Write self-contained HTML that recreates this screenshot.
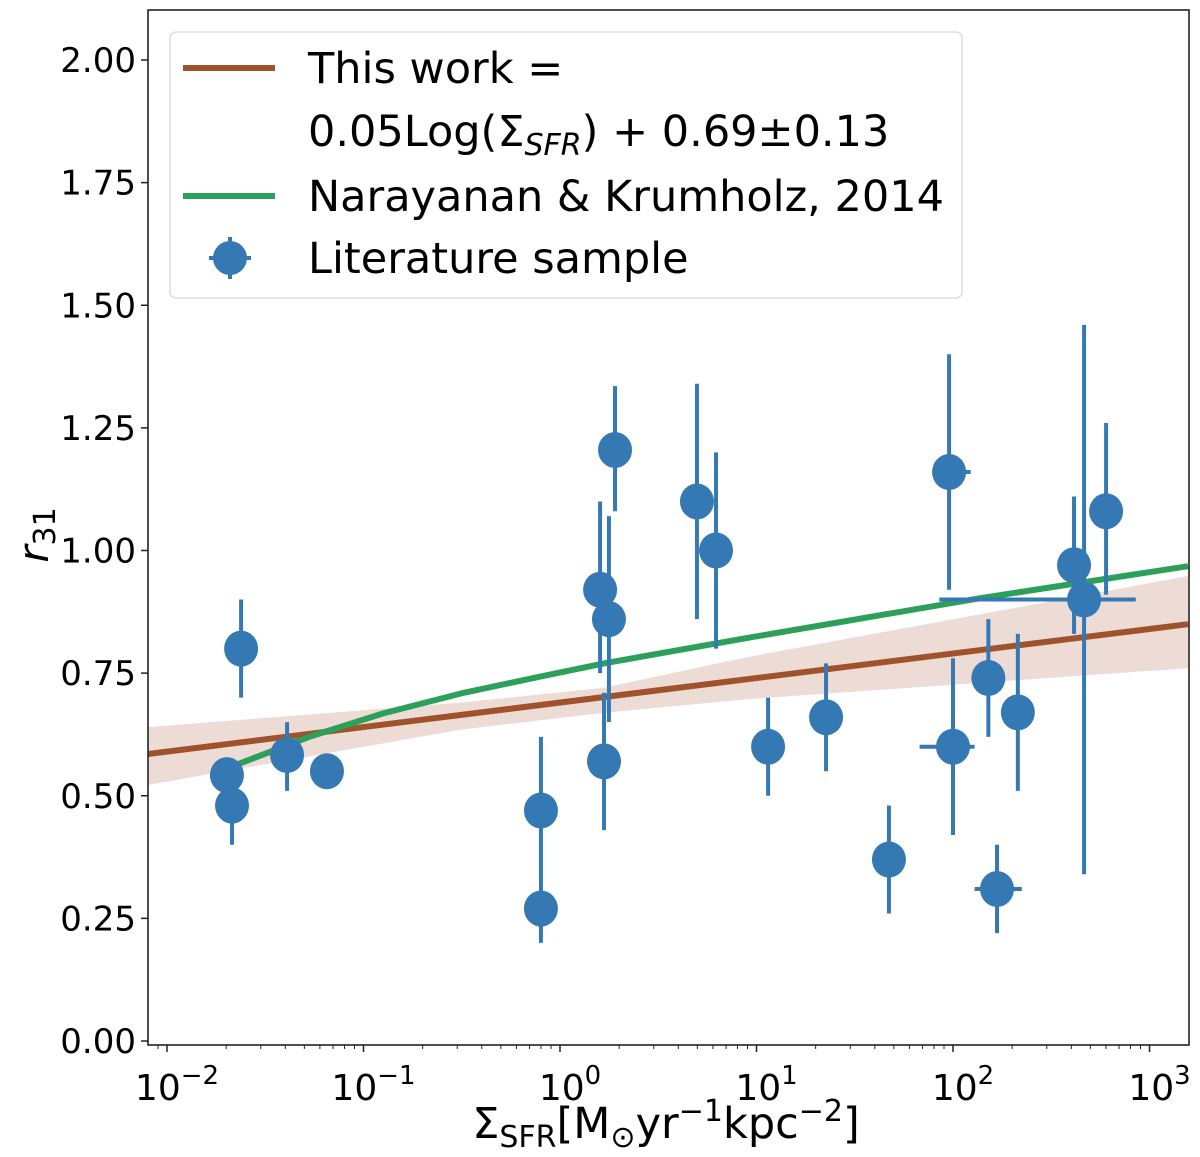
<!DOCTYPE html>
<html><head><meta charset="utf-8"><style>
html,body{margin:0;padding:0;background:#fff;}
svg{display:block;font-family:"DejaVu Sans","Liberation Sans",sans-serif;}
</style></head><body>
<svg id="chart" width="1200" height="1157" viewBox="0 0 1200 1157">
<g id="band"></g>
<g id="lines"></g>
<g id="points"></g>
<rect x="148" y="10" width="1041" height="1035" fill="none" stroke="#222" stroke-width="1.6"/>
<g id="axes"></g>
<text x="666" y="1138" font-size="43" text-anchor="middle" fill="#000">Σ<tspan font-size="30" dy="9">SFR</tspan><tspan dy="-9">[M</tspan><tspan font-size="30" dy="9">⊙</tspan><tspan dy="-9">yr</tspan><tspan font-size="30" dy="-17">−1</tspan><tspan dy="17">kpc</tspan><tspan font-size="30" dy="-17">−2</tspan><tspan dy="17">]</tspan></text>
<text transform="translate(48,535) rotate(-90)" font-size="42" text-anchor="middle" font-style="italic">r<tspan font-size="30" dy="7" font-style="normal">31</tspan></text>
<g>
<rect x="170" y="32" width="792" height="266" rx="6" fill="#fff" fill-opacity="0.85" stroke="#ddd" stroke-width="1.5"/>
<line x1="183" y1="68" x2="275" y2="68" stroke="#a0522d" stroke-width="6"/>
<text x="308" y="83" font-size="43">This work =</text>
<text x="308" y="146" font-size="43">0.05Log(Σ<tspan font-size="30" dy="9" font-style="italic">SFR</tspan><tspan dy="-9">) + 0.69±0.13</tspan></text>
<line x1="183" y1="196" x2="275" y2="196" stroke="#2ca05a" stroke-width="6"/>
<text x="308" y="211" font-size="43">Narayanan &amp; Krumholz, 2014</text>
<line x1="209" y1="258" x2="251" y2="258" stroke="#3579b4" stroke-width="4"/>
<line x1="230" y1="237" x2="230" y2="279" stroke="#3579b4" stroke-width="4"/>
<circle cx="230" cy="258" r="17" fill="#3579b4"/>
<text x="308" y="273" font-size="43">Literature sample</text>
</g>
</svg>
<script>
// data
const ptLogX = [-1.695,-1.669,-1.623,-1.389,-1.186,-0.097,-0.097,0.204,0.249,0.224,0.28,0.697,0.794,1.059,1.354,1.674,1.98,2.0,2.18,2.224,2.33,2.616,2.667,2.779];
const ptY    = [0.542,0.48,0.80,0.583,0.55,0.47,0.27,0.92,0.86,0.57,1.205,1.10,1.00,0.60,0.66,0.37,1.16,0.60,0.74,0.31,0.67,0.97,0.90,1.08];
const ptYLo  = [0.542,0.40,0.70,0.51,0.55,0.33,0.20,0.75,0.65,0.43,1.08,0.86,0.80,0.50,0.55,0.26,0.92,0.42,0.62,0.22,0.51,0.83,0.34,0.91];
const ptYHi  = [0.542,0.52,0.90,0.65,0.55,0.62,0.34,1.10,1.07,0.71,1.335,1.34,1.20,0.70,0.77,0.48,1.40,0.78,0.86,0.40,0.83,1.11,1.46,1.26];
const ptXLo  = [null,null,null,null,null,null,null,null,null,null,null,null,null,null,null,null,1.90,1.83,null,2.11,null,null,1.93,null];
const ptXHi  = [null,null,null,null,null,null,null,null,null,null,null,null,null,null,null,null,2.09,2.11,null,2.35,null,null,2.93,null];
const fitSlope = 0.05, fitIntercept = 0.69;
const fitRange = [-2.097, 3.196];
const bandLogX = [-2.097,-0.5,0.22,0.957,3.196];
const bandUpper = [0.64,0.69,0.72,0.783,0.948];
const bandLower = [0.522,0.635,0.669,0.697,0.760];
const nkLogX = [-1.674,-1.277,-0.9,-0.499,-0.1,0.239,0.957,2.142,3.196];
const nkY    = [0.559,0.620,0.668,0.709,0.743,0.771,0.822,0.903,0.968];
const yTicks = [0,0.25,0.5,0.75,1.0,1.25,1.5,1.75,2.0];
const yTickLabels = ["0.00","0.25","0.50","0.75","1.00","1.25","1.50","1.75","2.00"];
const xDecades = [-2,-1,0,1,2,3];
const xDecadeLabels = ["−2","−1","0","1","2","3"];

const NS="http://www.w3.org/2000/svg";
const X = l => 560 + 196.5*l;
const Y = v => 1041 - 490.5*v;
function mk(tag, attrs, parent){const e=document.createElementNS(NS,tag);for(const k in attrs)e.setAttribute(k,attrs[k]);parent.appendChild(e);return e;}
const gBand=document.getElementById('band'), gLines=document.getElementById('lines'), gPts=document.getElementById('points'), gAx=document.getElementById('axes');

let d='M'+bandLogX.map((l,i)=>X(l)+','+Y(bandUpper[i])).join('L');
for(let i=bandLogX.length-1;i>=0;i--) d+='L'+X(bandLogX[i])+','+Y(bandLower[i]);
const band=mk('path',{d:d+'Z',fill:'#a0522d','fill-opacity':0.2},gBand);



const fl=mk('line',{x1:X(fitRange[0]),y1:Y(fitSlope*fitRange[0]+fitIntercept),x2:X(fitRange[1]),y2:Y(fitSlope*fitRange[1]+fitIntercept),stroke:'#a0522d','stroke-width':6},gLines);


const nk=mk('polyline',{points:nkLogX.map((l,i)=>X(l)+','+Y(nkY[i])).join(' '),fill:'none',stroke:'#2ca05a','stroke-width':6,'stroke-linejoin':'round'},gLines);



ptLogX.forEach((l,i)=>{
  const g=mk('g',{},gPts);
  
  
  if(ptYHi[i]!==ptYLo[i]){
    const e=mk('line',{x1:X(l),x2:X(l),y1:Y(ptYLo[i]),y2:Y(ptYHi[i]),stroke:'#3579b4','stroke-width':4},g);
    
    
  }
  if(ptXLo[i]!==null){
    const e=mk('line',{x1:X(ptXLo[i]),x2:X(ptXHi[i]),y1:Y(ptY[i]),y2:Y(ptY[i]),stroke:'#3579b4','stroke-width':4},g);
    
    
  }
  const c=mk('ellipse',{cx:X(l),cy:Y(ptY[i]),rx:17,ry:18,fill:'#3579b4'},g);
  
  
});

yTicks.forEach((v,i)=>{
  const t=mk('line',{x1:141,x2:148,y1:Y(v),y2:Y(v),stroke:'#222','stroke-width':1.5},gAx);
  
  
  const tx=mk('text',{x:136,y:Y(v)+12,'font-size':34,'text-anchor':'end'},gAx);
  tx.textContent=yTickLabels[i];
  
  
});
xDecades.forEach((dd,i)=>{
  const t=mk('line',{x1:X(dd),x2:X(dd),y1:1045,y2:1052,stroke:'#222','stroke-width':1.5},gAx);
  
  
  const tx=mk('text',{x:X(dd)+10,y:1100,'font-size':36,'text-anchor':'middle'},gAx);
  
  
  tx.innerHTML='10<tspan font-size="26" dy="-16">'+xDecadeLabels[i]+'</tspan>';
});
for(let dd=-3;dd<=3;dd++){for(let m=2;m<=9;m++){
  const l=dd+Math.log10(m); const px=X(l);
  if(px<148||px>1189) continue;
  const t=mk('line',{x1:px,x2:px,y1:1045,y2:1049,stroke:'#222','stroke-width':1},gAx);
  
  
}}
</script>
</body></html>
